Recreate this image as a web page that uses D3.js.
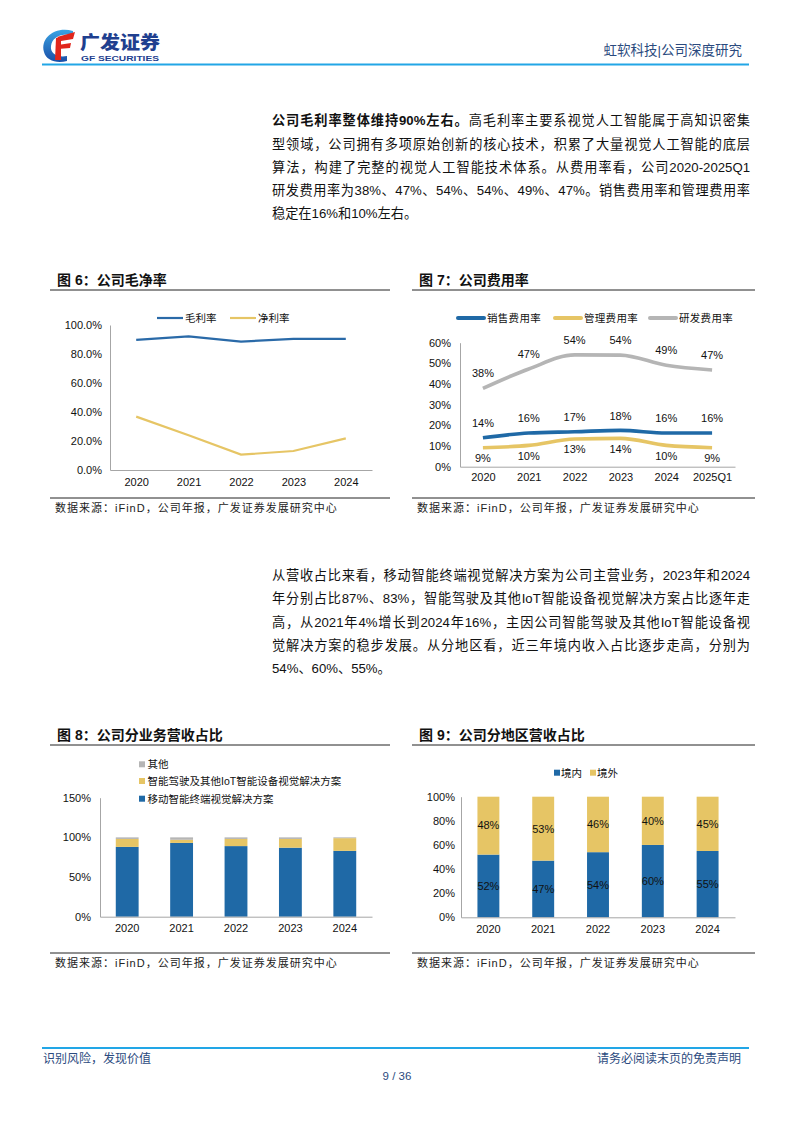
<!DOCTYPE html>
<html lang="zh-CN">
<head>
<meta charset="UTF-8">
<title>虹软科技 公司深度研究 9/36</title>
<style>
  body { margin: 0; background: #fff; }
  #page { position: relative; width: 794px; height: 1123px; font-family: "Liberation Sans", "Noto Sans CJK SC", sans-serif; }
  #page svg { position: absolute; left: 0; top: 0; }
  .line { position: absolute; left: 272px; width: 478px; height: 23px; line-height: 23px; font-size: 13.2px; color: #111;
          text-align: justify; text-align-last: justify; }
  .line.last { text-align-last: left; }
  .line b { font-weight: 700; }
</style>
</head>
<body>
<div id="page"></div>

<script src="https://d3js.org/d3.v7.min.js"></script>
<script>
// ---- data ----
const para1 = [
  ["<b>公司毛利率整体维持90%左右。</b>高毛利率主要系视觉人工智能属于高知识密集", 120.5],
  ["型领域，公司拥有多项原始创新的核心技术，积累了大量视觉人工智能的底层", 144],
  ["算法，构建了完整的视觉人工智能技术体系。从费用率看，公司2020-2025Q1", 167.3],
  ["研发费用率为38%、47%、54%、54%、49%、47%。销售费用率和管理费用率", 190.5],
  ["稳定在16%和10%左右。", 213.5]
];
const para2 = [
  ["从营收占比来看，移动智能终端视觉解决方案为公司主营业务，2023年和2024", 575],
  ["年分别占比87%、83%，智能驾驶及其他IoT智能设备视觉解决方案占比逐年走", 598.5],
  ["高，从2021年4%增长到2024年16%，主因公司智能驾驶及其他IoT智能设备视", 622],
  ["觉解决方案的稳步发展。从分地区看，近三年境内收入占比逐步走高，分别为", 645.5],
  ["54%、60%、55%。", 668.5]
];

// 图6
const c6Years = ["2020", "2021", "2022", "2023", "2024"];
const c6Gross = [89.8, 92.1, 88.6, 90.4, 90.5];
const c6Net = [36.8, 24.0, 10.6, 13.1, 21.8];
const c6Ticks = [0, 20, 40, 60, 80, 100];

// 图7
const c7Periods = ["2020", "2021", "2022", "2023", "2024", "2025Q1"];
const c7Sales = [14.0, 16.3, 16.9, 17.6, 16.3, 16.3];
const c7Admin = [9.2, 10.3, 13.4, 13.7, 10.3, 9.2];
const c7RD = [37.9, 47.3, 54.1, 54.0, 49.1, 46.8];
const c7Ticks = [0, 10, 20, 30, 40, 50, 60];

// 图8
const c8Years = ["2020", "2021", "2022", "2023", "2024"];
const c8Mobile = [88, 93, 89, 87, 83];
const c8IoT = [10, 4, 9, 11, 16];
const c8Other = [2, 3, 2, 2, 1];
const c8Ticks = [0, 50, 100, 150];

// 图9
const c9Years = ["2020", "2021", "2022", "2023", "2024"];
const c9Domestic = [52, 47, 54, 60, 55];
const c9Overseas = [48, 53, 46, 40, 45];
const c9Ticks = [0, 20, 40, 60, 80, 100];

const BLUE = "#1f69a6", YELLOW = "#e6c565", GREY = "#b5b5b5", AXIS = "#a6a6a6";
const NAVY = "#2b4a7e", CYAN = "#22a6e6";

// ---- page ----
const page = d3.select("#page");
const svg = page.append("svg").attr("width", 794).attr("height", 1123);

// header
const logo = svg.append("g");
const grad = svg.append("defs").append("linearGradient").attr("id", "lg")
  .attr("x1", 0).attr("y1", 0).attr("x2", 0).attr("y2", 1);
grad.append("stop").attr("offset", 0).attr("stop-color", "#3aa3e3");
grad.append("stop").attr("offset", 1).attr("stop-color", "#1a4fa8");
logo.append("path").attr("fill", "url(#lg)")
  .attr("d", "M73,31 C55,26 40,38 44,52 C46,60 56,64 67,61 L67,56 C57,58 50,53 51,46 C52,38 60,33 73,35 Z");
logo.append("path").attr("fill", "#e1261c").attr("d", "M57,37 L75,32 L73,39 L61,41 Z");
logo.append("path").attr("fill", "#e1261c").attr("d", "M58,45 L71,43 L70,48 L58,49 Z");
logo.append("path").attr("fill", "#e1261c").attr("d", "M56,38 L61,38 L61,60 L55,60 Z");
logo.append("text").attr("x", 80).attr("y", 48.5).attr("fill", "#1f3f8f")
  .attr("font-size", 18).attr("font-weight", 900).attr("font-family", "Noto Sans CJK SC")
  .attr("textLength", 80).attr("lengthAdjust", "spacingAndGlyphs")
  .text("广发证券");
logo.append("text").attr("x", 81).attr("y", 61).attr("fill", "#1f3f8f")
  .attr("font-size", 8).attr("font-weight", 700).attr("textLength", 78)
  .attr("lengthAdjust", "spacingAndGlyphs").text("GF SECURITIES");

svg.append("text").attr("x", 742).attr("y", 55).attr("text-anchor", "end")
  .attr("fill", NAVY).attr("font-size", 13.5).text("虹软科技|公司深度研究");
svg.append("line").attr("x1", 42).attr("x2", 749).attr("y1", 64.5).attr("y2", 64.5)
  .attr("stroke", CYAN).attr("stroke-width", 2);

// footer
svg.append("line").attr("x1", 42).attr("x2", 749).attr("y1", 1048).attr("y2", 1048)
  .attr("stroke", CYAN).attr("stroke-width", 2);
svg.append("text").attr("x", 43).attr("y", 1063).attr("fill", NAVY).attr("font-size", 12)
  .text("识别风险，发现价值");
svg.append("text").attr("x", 741).attr("y", 1063).attr("fill", NAVY).attr("font-size", 12)
  .attr("text-anchor", "end").text("请务必阅读末页的免责声明");
svg.append("text").attr("x", 397).attr("y", 1080).attr("fill", NAVY).attr("font-size", 11.5)
  .attr("text-anchor", "middle").text("9 / 36");

// paragraphs
para1.concat(para2).forEach(([html, cy], i) => {
  page.append("div")
    .attr("class", "line" + (i === 4 || i === 9 ? " last" : ""))
    .style("top", (cy - 11.5) + "px")
    .html(html);
});

// figure frames
function frame(x0, x1, title, yTitle, yBottom) {
  svg.append("text").attr("x", x0 + 7).attr("y", yTitle + 5).attr("font-size", 14)
    .attr("font-weight", 700).attr("fill", "#111").text(title);
  svg.append("line").attr("x1", x0).attr("x2", x1).attr("y1", yTitle + 10).attr("y2", yTitle + 10)
    .attr("stroke", "#222").attr("stroke-width", 1);
  svg.append("line").attr("x1", x0).attr("x2", x1).attr("y1", yBottom).attr("y2", yBottom)
    .attr("stroke", "#222").attr("stroke-width", 1);
  svg.append("text").attr("x", x0 + 5).attr("y", yBottom + 14).attr("font-size", 11)
    .attr("letter-spacing", 1).attr("fill", "#222").text("数据来源：iFinD，公司年报，广发证券发展研究中心");
}
frame(50, 390, "图 6：公司毛净率", 280, 498);
frame(412, 755, "图 7：公司费用率", 280, 498);
frame(50, 390, "图 8：公司分业务营收占比", 735, 953);
frame(412, 755, "图 9：公司分地区营收占比", 735, 953);

function styleAxis(g) {
  g.select(".domain").attr("stroke", AXIS);
  g.selectAll("text").attr("font-size", 11).attr("fill", "#111")
    .attr("font-family", "Liberation Sans");
}

// ---- 图6 ----
{
  const x = d3.scalePoint().domain(c6Years).range([110, 372]).padding(0.5);
  const y = d3.scaleLinear().domain([0, 100]).range([470, 325]);
  svg.append("g").attr("transform", "translate(110,0)")
    .call(d3.axisLeft(y).tickValues(c6Ticks).tickFormat(d => d.toFixed(1) + "%").tickSize(0).tickPadding(8))
    .call(styleAxis);
  svg.append("g").attr("transform", "translate(0,470)")
    .call(d3.axisBottom(x).tickSize(0).tickPadding(8))
    .call(styleAxis);
  const line = d3.line().x((d, i) => x(c6Years[i])).y(d => y(d));
  svg.append("path").datum(c6Gross).attr("d", line).attr("fill", "none")
    .attr("stroke", "#2a6aa8").attr("stroke-width", 2.2);
  svg.append("path").datum(c6Net).attr("d", line).attr("fill", "none")
    .attr("stroke", YELLOW).attr("stroke-width", 2.2);
  [["毛利率", "#2a6aa8", 157], ["净利率", YELLOW, 230]].forEach(([name, c, lx]) => {
    svg.append("line").attr("x1", lx).attr("x2", lx + 26).attr("y1", 318).attr("y2", 318)
      .attr("stroke", c).attr("stroke-width", 2.2);
    svg.append("text").attr("x", lx + 28).attr("y", 322).attr("font-size", 10.5).attr("fill", "#111").text(name);
  });
}

// ---- 图7 ----
{
  const x = d3.scalePoint().domain(c7Periods).range([460, 735]).padding(0.5);
  const y = d3.scaleLinear().domain([0, 60]).range([466.7, 342.7]);
  svg.append("g").attr("transform", "translate(460,0)")
    .call(d3.axisLeft(y).tickValues(c7Ticks).tickFormat(d => d + "%").tickSize(0).tickPadding(9))
    .call(styleAxis);
  svg.append("g").attr("transform", "translate(0,466.7)")
    .call(d3.axisBottom(x).tickSize(0).tickPadding(7))
    .call(styleAxis);
  const line = d3.line().x((d, i) => x(c7Periods[i])).y(d => y(d)).curve(d3.curveMonotoneX);
  const series = [
    { name: "销售费用率", vals: c7Sales, color: BLUE, off: -14.5, lx: 458 },
    { name: "管理费用率", vals: c7Admin, color: YELLOW, off: 10.5, lx: 555 },
    { name: "研发费用率", vals: c7RD, color: GREY, off: -15, lx: 650 }
  ];
  series.forEach(s => {
    svg.append("path").datum(s.vals).attr("d", line).attr("fill", "none")
      .attr("stroke", s.color).attr("stroke-width", 3.6);
    svg.append("g").selectAll("text").data(s.vals).join("text")
      .attr("x", (d, i) => x(c7Periods[i])).attr("y", d => y(d) + s.off)
      .attr("dy", "0.35em").attr("text-anchor", "middle").attr("font-size", 11).attr("fill", "#111")
      .text(d => Math.round(d) + "%");
    svg.append("line").attr("x1", s.lx).attr("x2", s.lx + 26).attr("y1", 318).attr("y2", 318)
      .attr("stroke", s.color).attr("stroke-width", 4).attr("stroke-linecap", "round");
    svg.append("text").attr("x", s.lx + 29).attr("y", 322).attr("font-size", 10.5)
      .attr("letter-spacing", 0.3).attr("fill", "#111").text(s.name);
  });
}

// ---- 图8 ----
{
  const x = d3.scaleBand().domain(c8Years).range([100, 372]).paddingInner(0.58).paddingOuter(0.29);
  const y = d3.scaleLinear().domain([0, 150]).range([916.7, 797.7]);
  const rows = c8Years.map((yr, i) => ({ yr, mobile: c8Mobile[i], iot: c8IoT[i], other: c8Other[i] }));
  const stack = d3.stack().keys(["mobile", "iot", "other"])(rows);
  const colors = { mobile: BLUE, iot: YELLOW, other: GREY };
  stack.forEach(layer => {
    svg.append("g").selectAll("rect").data(layer).join("rect")
      .attr("x", d => x(d.data.yr)).attr("width", x.bandwidth())
      .attr("y", d => y(d[1])).attr("height", d => y(d[0]) - y(d[1]))
      .attr("fill", colors[layer.key]);
  });
  svg.append("g").attr("transform", "translate(100,0)")
    .call(d3.axisLeft(y).tickValues(c8Ticks).tickFormat(d => d + "%").tickSize(0).tickPadding(9))
    .call(styleAxis);
  svg.append("g").attr("transform", "translate(0,916.7)")
    .call(d3.axisBottom(x).tickSize(0).tickPadding(8))
    .call(styleAxis);
  [["其他", GREY, 764.3], ["智能驾驶及其他IoT智能设备视觉解决方案", YELLOW, 781], ["移动智能终端视觉解决方案", BLUE, 798.7]]
    .forEach(([name, c, cy]) => {
      svg.append("rect").attr("x", 139).attr("y", cy - 3).attr("width", 6).attr("height", 6).attr("fill", c);
      svg.append("text").attr("x", 147.5).attr("y", cy + 3.8).attr("font-size", 10.5).attr("fill", "#111").text(name);
    });
}

// ---- 图9 ----
{
  const x = d3.scaleBand().domain(c9Years).range([461, 735]).paddingInner(0.6).paddingOuter(0.3);
  const y = d3.scaleLinear().domain([0, 100]).range([917.3, 796.7]);
  const rows = c9Years.map((yr, i) => ({ yr, dom: c9Domestic[i], ovs: c9Overseas[i] }));
  const stack = d3.stack().keys(["dom", "ovs"])(rows);
  const colors = { dom: BLUE, ovs: YELLOW };
  stack.forEach(layer => {
    svg.append("g").selectAll("rect").data(layer).join("rect")
      .attr("x", d => x(d.data.yr)).attr("width", x.bandwidth())
      .attr("y", d => y(d[1])).attr("height", d => y(d[0]) - y(d[1]))
      .attr("fill", colors[layer.key]);
    svg.append("g").selectAll("text").data(layer).join("text")
      .attr("x", d => x(d.data.yr) + x.bandwidth() / 2).attr("y", d => y((d[0] + d[1]) / 2))
      .attr("dy", "0.35em").attr("text-anchor", "middle").attr("font-size", 11).attr("fill", "#111")
      .text(d => (d[1] - d[0]) + "%");
  });
  svg.append("g").attr("transform", "translate(461,0)")
    .call(d3.axisLeft(y).tickValues(c9Ticks).tickFormat(d => d + "%").tickSize(0).tickPadding(6))
    .call(styleAxis);
  svg.append("g").attr("transform", "translate(0,917.3)")
    .call(d3.axisBottom(x).tickSize(0).tickPadding(8))
    .call(styleAxis);
  [["境内", BLUE, 554], ["境外", YELLOW, 590]].forEach(([name, c, lx]) => {
    svg.append("rect").attr("x", lx).attr("y", 769.7).attr("width", 6).attr("height", 6).attr("fill", c);
    svg.append("text").attr("x", lx + 7).attr("y", 776.5).attr("font-size", 10.5).attr("fill", "#111").text(name);
  });
}
</script>
</body>
</html>
